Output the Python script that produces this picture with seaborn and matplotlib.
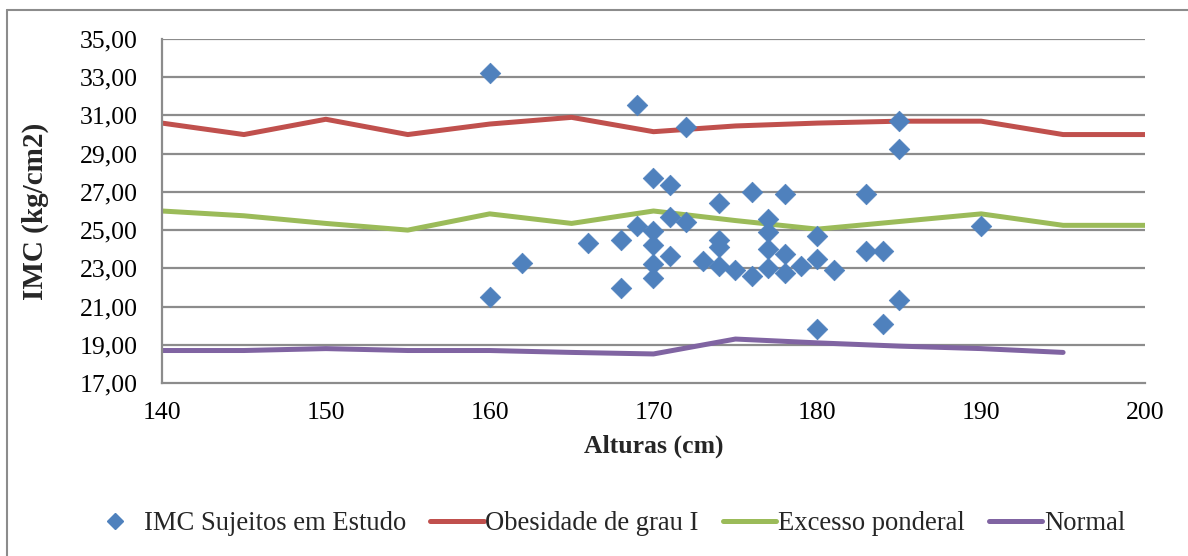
import numpy as np
import pandas as pd
import matplotlib
matplotlib.use("Agg")
import matplotlib.pyplot as plt
import seaborn as sns
from matplotlib.lines import Line2D

# ---- data ----
heights_ref = [140, 145, 150, 155, 160, 165, 170, 175, 180, 185, 190, 195, 200]
obesidade = [30.6, 30.0, 30.8, 30.0, 30.55, 30.9, 30.15, 30.45, 30.6, 30.7, 30.7, 30.0, 30.0]
excesso = [26.0, 25.75, 25.35, 25.0, 25.85, 25.35, 26.0, 25.5, 25.05, 25.45, 25.85, 25.25, 25.25]
heights_normal = [140, 145, 150, 155, 160, 165, 170, 175, 180, 185, 190, 195]
normal = [18.7, 18.7, 18.8, 18.7, 18.7, 18.6, 18.52, 19.3, 19.1, 18.93, 18.8, 18.6]

subj_height = [160, 160, 162, 166, 168, 168, 169, 169,
               170, 170, 170, 170, 170, 171, 171, 171, 172, 172, 173,
               174, 174, 174, 174, 175, 176, 176, 177, 177, 177, 177,
               178, 178, 178, 179, 180, 180, 180, 181, 183, 183,
               184, 184, 185, 185, 185, 190]
subj_imc = [33.22, 21.48, 23.26, 24.34, 24.48, 21.99, 31.55, 25.23,
            27.71, 24.97, 24.22, 23.23, 22.48, 27.36, 25.66, 23.62, 30.41, 25.4, 23.4,
            26.44, 24.5, 24.12, 23.12, 22.89, 26.97, 22.6, 25.56, 24.92, 24.0, 23.0,
            26.87, 23.73, 22.76, 23.12, 24.7, 23.49, 19.8, 22.91, 26.89, 23.92,
            23.92, 20.09, 30.71, 29.23, 21.34, 25.23]

series_names = ["IMC Sujeitos em Estudo", "Obesidade de grau I", "Excesso ponderal", "Normal"]
colors = ["#4F81BD", "#C0504D", "#9BBB59", "#8064A2"]
x_ticks = [140, 150, 160, 170, 180, 190, 200]
y_ticks = [17, 19, 21, 23, 25, 27, 29, 31, 33, 35]

sns.set_style("white")
plt.rcParams['font.family'] = ['Liberation Serif', 'DejaVu Serif']

W, H = 1188, 556
fig = plt.figure(figsize=(W / 100, H / 100), dpi=100)
ax = fig.add_axes([162 / W, 1 - 383 / H, (1145 - 162) / W, (383 - 39) / H])

grid_c = "#8C8C8C"
for yv in y_ticks[1:]:
    ax.axhline(yv, color=grid_c, lw=1.6, zorder=0)

df_ob = pd.DataFrame({"h": heights_ref, "v": obesidade})
df_ex = pd.DataFrame({"h": heights_ref, "v": excesso})
df_no = pd.DataFrame({"h": heights_normal, "v": normal})
df_s = pd.DataFrame({"h": subj_height, "v": subj_imc})

sns.lineplot(data=df_ob, x="h", y="v", ax=ax, color=colors[1], lw=3.6, zorder=2,
             solid_capstyle="round")
sns.lineplot(data=df_ex, x="h", y="v", ax=ax, color=colors[2], lw=3.6, zorder=2,
             solid_capstyle="round")
sns.lineplot(data=df_no, x="h", y="v", ax=ax, color=colors[3], lw=3.6, zorder=2,
             solid_capstyle="round")
sns.scatterplot(data=df_s, x="h", y="v", ax=ax, marker="D", s=110, color=colors[0],
                edgecolor=colors[0], linewidth=0.5, zorder=3)

ax.set_xlim(140, 200)
ax.set_ylim(17, 35)
ax.set_xticks(x_ticks)
ax.set_yticks(y_ticks)
ax.set_yticklabels([f"{v:.2f}".replace(".", ",") for v in y_ticks])
ax.tick_params(axis="both", labelsize=18.5, colors=grid_c, labelcolor="black",
               direction="out", length=5.5, width=1.3)
ax.tick_params(axis="x", pad=8)
ax.tick_params(axis="y", pad=12)
for s in ["top", "right"]:
    ax.spines[s].set_visible(False)
for s in ["left", "bottom"]:
    ax.spines[s].set_color(grid_c)
    ax.spines[s].set_linewidth(1.6)
ax.set_xlabel("Alturas (cm)", fontsize=18.5, fontweight="bold", labelpad=8)
ax.set_ylabel("IMC (kg/cm2)", fontsize=21, fontweight="bold", labelpad=22)

handles = [
    Line2D([], [], marker="D", color=colors[0], linestyle="none", markersize=8),
    Line2D([], [], color=colors[1], lw=3.6, solid_capstyle="round"),
    Line2D([], [], color=colors[2], lw=3.6, solid_capstyle="round"),
    Line2D([], [], color=colors[3], lw=3.6, solid_capstyle="round"),
]
fig.legend(handles, series_names, loc="center", bbox_to_anchor=(607 / W, 1 - 524 / H),
           ncol=4, frameon=False, fontsize=19.2, handlelength=2.0, handletextpad=0.07,
           columnspacing=0.9)

# outer chart border (top and left)
fig.add_artist(Line2D([7 / W, 7 / W], [0, 1 - 10 / H], transform=fig.transFigure,
                      color="#8C8C8C", lw=1.5))
fig.add_artist(Line2D([7 / W, 1], [1 - 10 / H, 1 - 10 / H], transform=fig.transFigure,
                      color="#8C8C8C", lw=1.5))

fig.savefig("out.png", dpi=100)
